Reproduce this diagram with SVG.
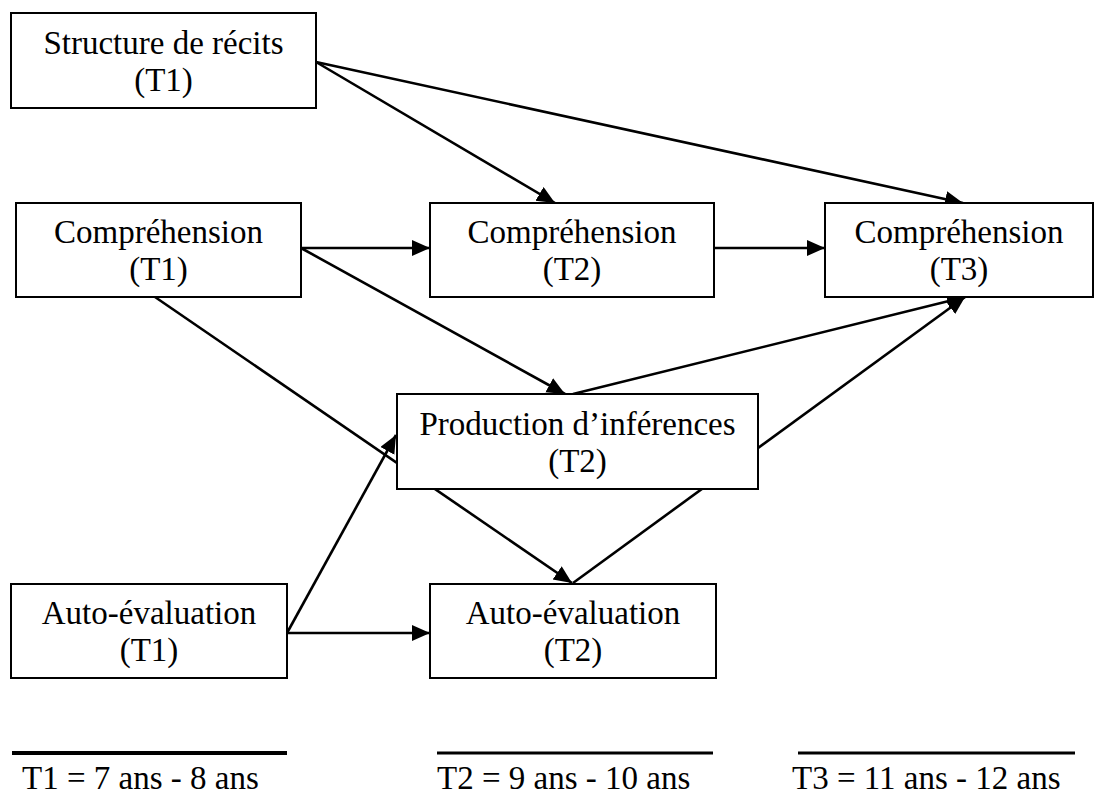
<svg xmlns="http://www.w3.org/2000/svg" width="1103" height="794" viewBox="0 0 1103 794">
  <style>
    .box { fill: #ffffff; stroke: #000000; stroke-width: 2; }
    .lbl { font-family: "Liberation Serif", serif; font-size: 33px; fill: #000000; text-anchor: middle; }
    .leg { font-family: "Liberation Serif", serif; font-size: 33px; fill: #000000; }
    .edge { stroke: #000000; stroke-width: 2.6; fill: none; marker-end: url(#arrow); }
    .rule { stroke: #000000; }
  </style>
  <defs>
    <marker id="arrow" markerUnits="userSpaceOnUse" markerWidth="19" markerHeight="17" refX="18" refY="8" orient="auto">
      <path d="M0,0 L18,8 L0,16 z" fill="#000000"/>
    </marker>
  </defs>
  <rect width="1103" height="794" fill="#ffffff"/>

  <!-- connectors -->
  <g id="connectors">
    <line class="edge" x1="316" y1="62" x2="555" y2="203"/>
    <line class="edge" x1="316" y1="62" x2="963" y2="203"/>
    <line class="edge" x1="301" y1="248" x2="430" y2="248"/>
    <line class="edge" x1="714" y1="248" x2="825" y2="248"/>
    <line class="edge" x1="301" y1="248" x2="565" y2="394"/>
    <line class="edge" x1="155" y1="297" x2="572" y2="583"/>
    <line class="edge" x1="573" y1="394" x2="965" y2="297"/>
    <line class="edge" x1="573" y1="583" x2="965" y2="297"/>
    <line class="edge" x1="287" y1="633" x2="396" y2="435"/>
    <line class="edge" x1="287" y1="633" x2="430" y2="633"/>
  </g>

  <!-- nodes -->
  <g id="structure-t1">
    <rect class="box" x="11" y="13" width="305" height="95"/>
    <text class="lbl" x="163.5" y="54" font-family="Liberation Serif">Structure de récits</text>
    <text class="lbl" x="163.5" y="91" font-family="Liberation Serif">(T1)</text>
  </g>
  <g id="comprehension-t1">
    <rect class="box" x="16" y="203" width="285" height="94"/>
    <text class="lbl" x="158.5" y="243">Compréhension</text>
    <text class="lbl" x="158.5" y="280">(T1)</text>
  </g>
  <g id="comprehension-t2">
    <rect class="box" x="430" y="203" width="284" height="94"/>
    <text class="lbl" x="572" y="243">Compréhension</text>
    <text class="lbl" x="572" y="280">(T2)</text>
  </g>
  <g id="comprehension-t3">
    <rect class="box" x="825" y="203" width="268" height="94"/>
    <text class="lbl" x="959" y="243">Compréhension</text>
    <text class="lbl" x="959" y="280">(T3)</text>
  </g>
  <g id="inferences-t2">
    <rect class="box" x="397" y="394" width="361" height="95"/>
    <text class="lbl" x="577.5" y="435">Production d’inférences</text>
    <text class="lbl" x="577.5" y="472">(T2)</text>
  </g>
  <g id="autoeval-t1">
    <rect class="box" x="11" y="584" width="276" height="94"/>
    <text class="lbl" x="149" y="624">Auto-évaluation</text>
    <text class="lbl" x="149" y="661">(T1)</text>
  </g>
  <g id="autoeval-t2">
    <rect class="box" x="430" y="584" width="286" height="94"/>
    <text class="lbl" x="573" y="624">Auto-évaluation</text>
    <text class="lbl" x="573" y="661">(T2)</text>
  </g>

  <!-- age legend -->
  <g id="legend">
    <line class="rule" x1="12" y1="753" x2="287" y2="753" stroke-width="4"/>
    <line class="rule" x1="437" y1="753" x2="713" y2="753" stroke-width="3"/>
    <line class="rule" x1="798" y1="753" x2="1075" y2="753" stroke-width="3"/>
    <text class="leg" x="22" y="789">T1 = 7 ans - 8 ans</text>
    <text class="leg" x="437" y="789">T2 = 9 ans - 10 ans</text>
    <text class="leg" x="792" y="789">T3 = 11 ans - 12 ans</text>
  </g>
</svg>
